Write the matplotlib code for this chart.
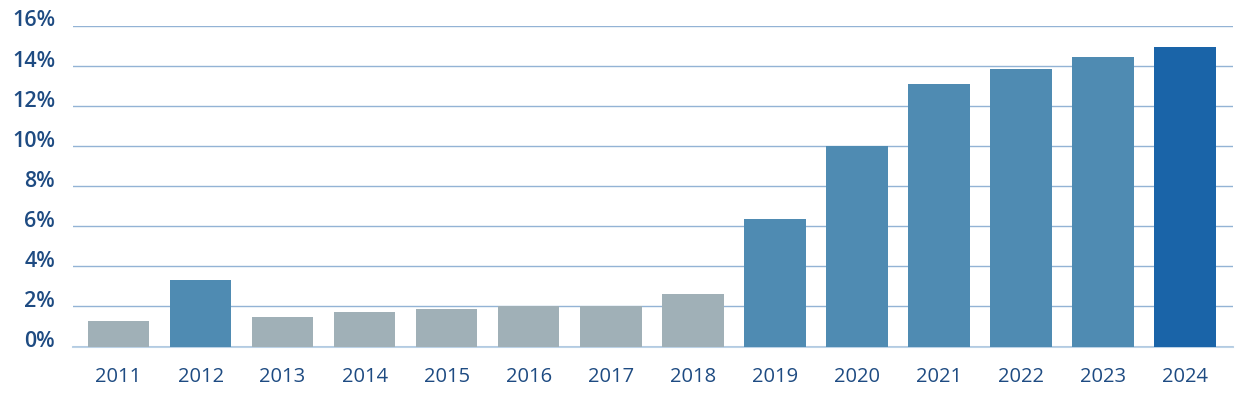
import matplotlib
matplotlib.use('Agg')
import matplotlib.pyplot as plt
import matplotlib.transforms as mtransforms
import numpy as np

# data
years = ['2011', '2012', '2013', '2014', '2015', '2016', '2017',
         '2018', '2019', '2020', '2021', '2022', '2023', '2024']
values = [1.27, 3.33, 1.47, 1.72, 1.87, 2.02, 2.02,
          2.62, 6.37, 10.0, 13.1, 13.85, 14.45, 14.95]
y_ticks = [0, 2, 4, 6, 8, 10, 12, 14, 16]

GRAY = '#a0b0b7'
MID = '#4f8bb2'
DARK = '#1a64a8'
TEXT = '#1e4b82'
GRID = '#93b3d5'

colors = [GRAY, MID, GRAY, GRAY, GRAY, GRAY, GRAY,
          GRAY, MID, MID, MID, MID, MID, DARK]

plt.rcParams['font.family'] = ['Open Sans', 'DejaVu Sans']

fig = plt.figure(figsize=(12.47, 4.13), dpi=100)
ax = fig.add_axes([73 / 1247, 1 - 346.5 / 413, (1233 - 73) / 1247, (346.5 - 26) / 413])

x = np.arange(len(years))
ax.bar(x, values, width=0.75, color=colors, zorder=2)

ax.set_xlim(-0.555, 13.585)
ax.set_ylim(0, 16)
ax.set_yticks(y_ticks)
ax.set_yticklabels([])
ax.set_xticks(x)
ax.set_xticklabels(years, fontsize=14.5, color=TEXT)

# y labels sit a little above their gridlines in the reference, so draw them by hand
shift = mtransforms.ScaledTranslation(-18 / 100, 5 / 100, fig.dpi_scale_trans)
for t in y_ticks:
    ax.text(0, t, f'{t}%', transform=ax.get_yaxis_transform() + shift,
            ha='right', va='center', fontsize=15.5, fontweight='semibold',
            color=TEXT, clip_on=False)

ax.yaxis.grid(True, color=GRID, linewidth=1, zorder=0)
ax.axhline(0, color='#bcd2e6', linewidth=1.5, zorder=0, clip_on=False)
ax.set_axisbelow(True)
ax.tick_params(axis='y', length=0)
ax.tick_params(axis='x', length=0, pad=15)
for s in ax.spines.values():
    s.set_visible(False)

fig.savefig('out.png', dpi=100)
plt.close(fig)
